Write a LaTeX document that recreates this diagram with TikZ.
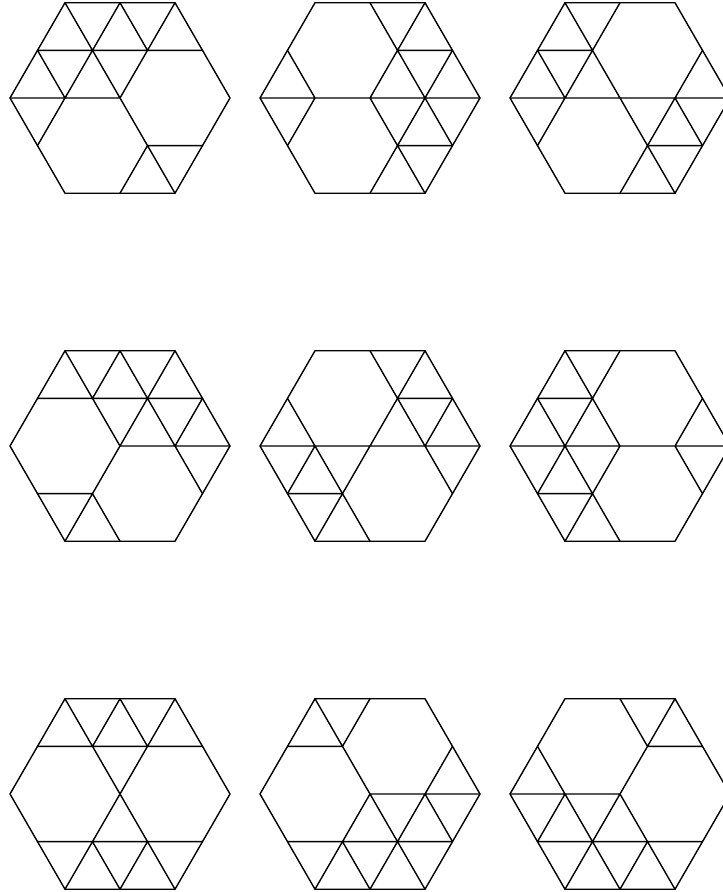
\documentclass[tikz,border=0pt]{standalone}
\tikzset{tile/.style={line width=1.4pt, line join=round, line cap=round, black}}
\newcommand\hexat[3]{%
  \begin{scope}[xshift=#1pt, yshift=#2pt, x=55pt, y=47.63pt]
    \draw[tile] (-2,0)--(-1,2)--(1,2)--(2,0)--(1,-2)--(-1,-2)--cycle;
    \draw[tile] #3;
  \end{scope}}
\begin{document}
\begin{tikzpicture}[x=1pt,y=1pt]
\useasboundingbox (0,0) rectangle (723,892);
\clip (0,0) rectangle (723,892);
% row 1
\hexat{120}{794}{(-1,2)--(-0.5,1)--(0,2)--(0.5,1)--(1,2)
  (-1.5,1)--(1.5,1)
  (-1.5,1)--(-1,0)--(-0.5,1)--(0,0)--(0.5,1)
  (-2,0)--(0,0)
  (-1,0)--(-1.5,-1)
  (0,0)--(0.5,-1)--(1.5,-1)
  (0,-2)--(0.5,-1)--(1,-2)}
\hexat{370}{794}{(0,2)--(0.5,1)--(1,2)
  (0.5,1)--(1.5,1)
  (0,0)--(0.5,1)--(1,0)--(1.5,1)
  (-1.5,1)--(-1,0)
  (-2,0)--(2,0)
  (-1,0)--(-1.5,-1)
  (0,0)--(0.5,-1)--(1,0)--(1.5,-1)
  (0.5,-1)--(1.5,-1)
  (0,-2)--(0.5,-1)--(1,-2)}
\hexat{620}{794}{(-1,2)--(-0.5,1)--(0,2)
  (-1.5,1)--(-0.5,1)
  (-1.5,1)--(-1,0)--(-0.5,1)--(0,0)
  (1.5,1)--(1,0)
  (-2,0)--(2,0)
  (-1,0)--(-1.5,-1)
  (0,0)--(0.5,-1)--(1,0)--(1.5,-1)
  (0.5,-1)--(1.5,-1)
  (0,-2)--(0.5,-1)--(1,-2)}
% row 2
\hexat{120}{446}{(-1,2)--(-0.5,1)--(0,2)--(0.5,1)--(1,2)
  (-1.5,1)--(1.5,1)
  (-0.5,1)--(0,0)--(0.5,1)--(1,0)--(1.5,1)
  (0,0)--(2,0)
  (0,0)--(-0.5,-1)
  (1,0)--(1.5,-1)
  (-1.5,-1)--(-0.5,-1)
  (-1,-2)--(-0.5,-1)--(0,-2)}
\hexat{370}{446}{(0,2)--(0.5,1)--(1,2)
  (0.5,1)--(1.5,1)
  (0,0)--(0.5,1)--(1,0)--(1.5,1)
  (-1.5,1)--(-1,0)
  (-2,0)--(2,0)
  (-1.5,-1)--(-1,0)--(-0.5,-1)--(0,0)
  (-1.5,-1)--(-0.5,-1)
  (-1,-2)--(-0.5,-1)--(0,-2)
  (1,0)--(1.5,-1)}
\hexat{620}{446}{(-1,2)--(-0.5,1)--(0,2)
  (-1.5,1)--(-0.5,1)
  (-1.5,1)--(-1,0)--(-0.5,1)--(0,0)
  (1.5,1)--(1,0)
  (-2,0)--(2,0)
  (-1.5,-1)--(-1,0)--(-0.5,-1)--(0,0)
  (-1.5,-1)--(-0.5,-1)
  (-1,-2)--(-0.5,-1)--(0,-2)
  (1,0)--(1.5,-1)}
% row 3
\hexat{120}{98}{(-1,2)--(-0.5,1)--(0,2)--(0.5,1)--(1,2)
  (-1.5,1)--(1.5,1)
  (-0.5,1)--(0.5,-1)
  (0.5,1)--(-0.5,-1)
  (-1.5,-1)--(1.5,-1)
  (-1,-2)--(-0.5,-1)--(0,-2)--(0.5,-1)--(1,-2)}
\hexat{370}{98}{(-1,2)--(-0.5,1)--(0,2)
  (-1.5,1)--(-0.5,1)--(0,0)
  (1.5,1)--(1,0)
  (0,0)--(2,0)
  (-0.5,-1)--(0,0)--(0.5,-1)--(1,0)--(1.5,-1)
  (-1.5,-1)--(1.5,-1)
  (-1,-2)--(-0.5,-1)--(0,-2)--(0.5,-1)--(1,-2)}
\hexat{620}{98}{(0,2)--(0.5,1)--(1,2)
  (0.5,1)--(1.5,1)
  (0.5,1)--(0,0)
  (-1.5,1)--(-1,0)
  (-2,0)--(0,0)
  (-1.5,-1)--(-1,0)--(-0.5,-1)--(0,0)--(0.5,-1)
  (-1.5,-1)--(1.5,-1)
  (-1,-2)--(-0.5,-1)--(0,-2)--(0.5,-1)--(1,-2)}
\end{tikzpicture}
\end{document}
